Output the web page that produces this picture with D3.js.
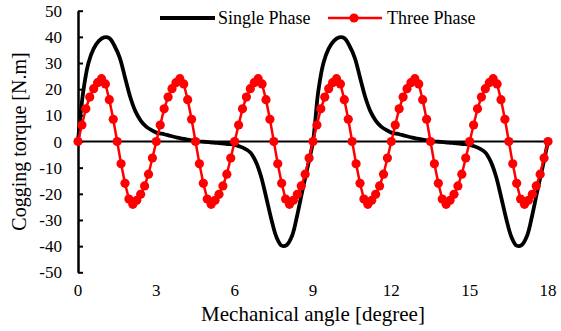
<!DOCTYPE html>
<html>
<head>
<meta charset="utf-8">
<script src="https://cdn.jsdelivr.net/npm/d3@7"></script>
<style>
  body { margin: 0; background: #fff; }
</style>
</head>
<body>
<svg id="chart" width="561" height="331"></svg>
<script>
var FONT = "Liberation Serif";

// angles (degree) for each series
var singleAngles = d3.range(0, 18.0001, 0.2);
var threeAngles = d3.range(0, 18.0001, 0.15);

// single phase cogging torque (0.2 deg step)
var singleValues = [
  0, 19, 30, 35.5, 38.5, 39.8, 39.5, 36.5, 32, 24.5, 17, 11.5, 8, 5.8, 4.4, 3.4, 3.0, 2.5, 2.0, 1.5, 1.1, 0.7, 0.35,
  0.05, -0.1, -0.25, -0.4, -0.6, -0.8, -1.0, -1.3, -1.9, -2.8, -4.2, -7.5, -13, -21, -29.5, -36.5, -39.8, -39.5, -36, -28, -18.5, -9.5, 0,
  19, 30, 35.5, 38.5, 39.8, 39.5, 36.5, 32, 24.5, 17, 11.5, 8, 5.8, 4.4, 3.4, 3.0, 2.5, 2.0, 1.5, 1.1, 0.7, 0.35,
  0.05, -0.1, -0.25, -0.4, -0.6, -0.8, -1.0, -1.3, -1.9, -2.8, -4.2, -7.5, -13, -21, -29.5, -36.5, -39.8, -39.5, -36, -28, -18.5, -9.5, 0
];

// three phase cogging torque (0.15 deg step)
var threeValues = [
  0, 6.3, 12.5, 17, 20.2, 22.5, 24, 22, 16, 8.5, 0, -8.5, -16, -22, -24, -22.5, -20.2, -17, -12.5, -6.3,
  0, 6.3, 12.5, 17, 20.2, 22.5, 24, 22, 16, 8.5, 0, -8.5, -16, -22, -24, -22.5, -20.2, -17, -12.5, -6.3,
  0, 6.3, 12.5, 17, 20.2, 22.5, 24, 22, 16, 8.5, 0, -8.5, -16, -22, -24, -22.5, -20.2, -17, -12.5, -6.3,
  0, 6.3, 12.5, 17, 20.2, 22.5, 24, 22, 16, 8.5, 0, -8.5, -16, -22, -24, -22.5, -20.2, -17, -12.5, -6.3,
  0, 6.3, 12.5, 17, 20.2, 22.5, 24, 22, 16, 8.5, 0, -8.5, -16, -22, -24, -22.5, -20.2, -17, -12.5, -6.3,
  0, 6.3, 12.5, 17, 20.2, 22.5, 24, 22, 16, 8.5, 0, -8.5, -16, -22, -24, -22.5, -20.2, -17, -12.5, -6.3,
  0
];

var xTicks = [0, 3, 6, 9, 12, 15, 18];
var yTicks = [-50, -40, -30, -20, -10, 0, 10, 20, 30, 40, 50];
var seriesNames = ["Single Phase", "Three Phase"];

var svg = d3.select("#chart");
var x = d3.scaleLinear().domain([0, 18]).range([78, 548]);
var y = d3.scaleLinear().domain([-50, 50]).range([272.3, 10.7]);

// zero line (horizontal axis)
svg.append("line")
  .attr("x1", x(0)).attr("x2", x(18))
  .attr("y1", y(0)).attr("y2", y(0))
  .style("stroke", "#000").style("stroke-width", 2);

// y axis with inward ticks
var yAxis = svg.append("g")
  .attr("transform", "translate(" + x(0) + ",0)")
  .call(d3.axisRight(y).tickValues(yTicks).tickSize(5).tickSizeOuter(0).tickFormat(""));
yAxis.select(".domain").style("stroke-width", 2.5);
yAxis.selectAll(".tick line").style("stroke-width", 2);

svg.selectAll(".ylab")
  .data(yTicks)
  .enter().append("text")
  .attr("class", "ylab")
  .attr("x", 62)
  .attr("y", function(d) { return y(d) + 6; })
  .attr("text-anchor", "end")
  .attr("font-family", FONT)
  .attr("font-size", 17)
  .text(function(d) { return d; });

svg.selectAll(".xlab")
  .data(xTicks)
  .enter().append("text")
  .attr("class", "xlab")
  .attr("x", function(d) { return x(d); })
  .attr("y", 296)
  .attr("text-anchor", "middle")
  .attr("font-family", FONT)
  .attr("font-size", 17)
  .text(function(d) { return d; });

svg.append("text")
  .attr("x", (x(0) + x(18)) / 2)
  .attr("y", 321)
  .attr("text-anchor", "middle")
  .attr("font-family", FONT)
  .attr("font-size", 21)
  .text("Mechanical angle [degree]");

svg.append("text")
  .attr("transform", "translate(26," + y(0) + ") rotate(-90)")
  .attr("text-anchor", "middle")
  .attr("font-family", FONT)
  .attr("font-size", 20)
  .text("Cogging torque [N.m]");

// single phase
var singleData = singleAngles.map(function(a, i) { return [a, singleValues[i]]; });
var line = d3.line()
  .x(function(d) { return x(d[0]); })
  .y(function(d) { return y(d[1]); })
  .curve(d3.curveCatmullRom);

svg.append("path")
  .datum(singleData)
  .attr("d", line)
  .style("fill", "none")
  .style("stroke", "#000")
  .style("stroke-width", 3.8);

// three phase
var threeData = threeAngles.map(function(a, i) { return [a, threeValues[i]]; });
svg.append("path")
  .datum(threeData)
  .attr("d", d3.line().x(function(d) { return x(d[0]); }).y(function(d) { return y(d[1]); }))
  .style("fill", "none")
  .style("stroke", "#ff0000")
  .style("stroke-width", 2.5);

svg.selectAll(".mk")
  .data(threeData)
  .enter().append("circle")
  .attr("class", "mk")
  .attr("cx", function(d) { return x(d[0]); })
  .attr("cy", function(d) { return y(d[1]); })
  .attr("r", 4.6)
  .style("fill", "#ff0000");

// legend
var lg = svg.append("g");
lg.append("line").attr("x1", 160).attr("x2", 215).attr("y1", 18).attr("y2", 18)
  .style("stroke", "#000").style("stroke-width", 4);
lg.append("text").attr("x", 218).attr("y", 24).attr("font-family", FONT).attr("font-size", 18).text(seriesNames[0]);
lg.append("line").attr("x1", 328).attr("x2", 382).attr("y1", 18).attr("y2", 18)
  .style("stroke", "#ff0000").style("stroke-width", 2.5);
lg.append("circle").attr("cx", 354).attr("cy", 18).attr("r", 4.6).style("fill", "#ff0000");
lg.append("text").attr("x", 387).attr("y", 24).attr("font-family", FONT).attr("font-size", 18).text(seriesNames[1]);
</script>
</body>
</html>
